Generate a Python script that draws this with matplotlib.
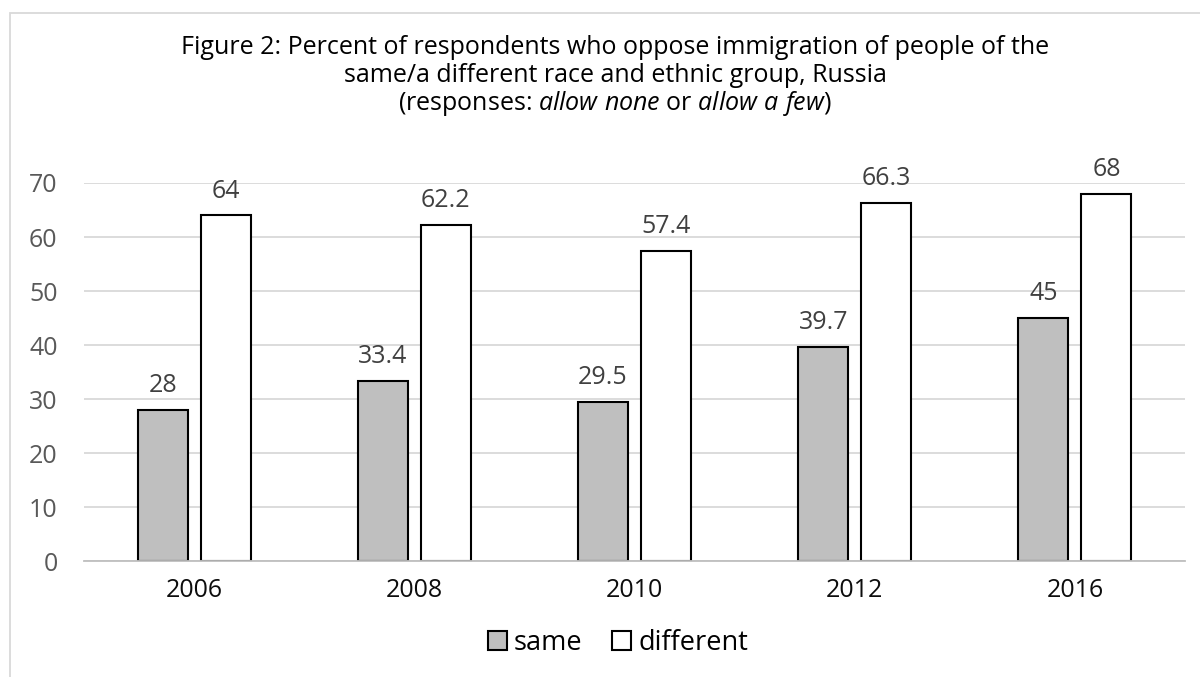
import matplotlib
matplotlib.use("Agg")
import matplotlib.pyplot as plt
import matplotlib.patches as mpatches
import numpy as np

years = ["2006", "2008", "2010", "2012", "2016"]
same = [28, 33.4, 29.5, 39.7, 45]
different = [64, 62.2, 57.4, 66.3, 68]
same_labels = ["28", "33.4", "29.5", "39.7", "45"]
diff_labels = ["64", "62.2", "57.4", "66.3", "68"]

plt.rcParams['font.family'] = ['Open Sans', 'DejaVu Sans']
plt.rcParams['mathtext.fontset'] = 'custom'
plt.rcParams['mathtext.rm'] = 'Open Sans'
plt.rcParams['mathtext.it'] = 'Open Sans:italic'

fig = plt.figure(figsize=(12, 6.77), dpi=100)
ax = fig.add_axes([0.07, 0.171, 0.9175, 0.5587])

x = np.arange(len(years))
w = 0.227
off = 0.143
grey = '#404040'
b1 = ax.bar(x - off, same, w, color='#bfbfbf', edgecolor='black', linewidth=1.5, label='same', zorder=2)
b2 = ax.bar(x + off, different, w, color='white', edgecolor='black', linewidth=1.5, label='different', zorder=2)
for xi, v, s in zip(x, same, same_labels):
    ax.text(xi - off, v + 2.2, s, ha='center', va='bottom', fontsize=18, color=grey)
for xi, v, s in zip(x, different, diff_labels):
    ax.text(xi + off, v + 2.2, s, ha='center', va='bottom', fontsize=18, color=grey, clip_on=False)

ax.set_xlim(-0.5, len(years) - 0.5)
ax.set_ylim(0, 70)
ax.set_yticks(range(0, 71, 10))
ax.set_xticks(x)
ax.set_xticklabels(years)
ax.set_axisbelow(True)
ax.tick_params(axis='x', length=0, labelsize=18, colors='#0d0d0d', pad=12)
ax.tick_params(axis='y', length=0, labelsize=18, colors='#595959', pad=19)
ax.yaxis.grid(True, color='#d9d9d9', linewidth=1.3)
for sp in ['top', 'right', 'left']:
    ax.spines[sp].set_visible(False)
ax.spines['bottom'].set_color('#bfbfbf')
ax.spines['bottom'].set_linewidth(1.3)
ax.spines['bottom'].set_zorder(3)

tx = 615 / 1200
fig.text(tx, 1 - 48 / 677, "Figure 2: Percent of respondents who oppose immigration of people of the",
         ha='center', va='center', fontsize=18)
fig.text(tx, 1 - 76 / 677, "same/a different race and ethnic group, Russia",
         ha='center', va='center', fontsize=18)
fig.text(tx, 1 - 104 / 677, r"(responses: $\mathit{allow\ none}$ or $\mathit{allow\ a\ few}$)",
         ha='center', va='center', fontsize=18)

fig.legend(handles=[b1, b2], loc='center', bbox_to_anchor=(0.515, 1 - 643 / 677), ncol=2,
           frameon=False, fontsize=19.5, handlelength=0.7, handleheight=0.7,
           handletextpad=0.25, columnspacing=1.1)

fig.patches.append(mpatches.Rectangle((10 / 1200, -0.1), 1.2, 1 - 13 / 677 + 0.1,
                                      transform=fig.transFigure, fill=False,
                                      edgecolor='#d9d9d9', linewidth=1.3))

fig.savefig("out.png", dpi=100)
